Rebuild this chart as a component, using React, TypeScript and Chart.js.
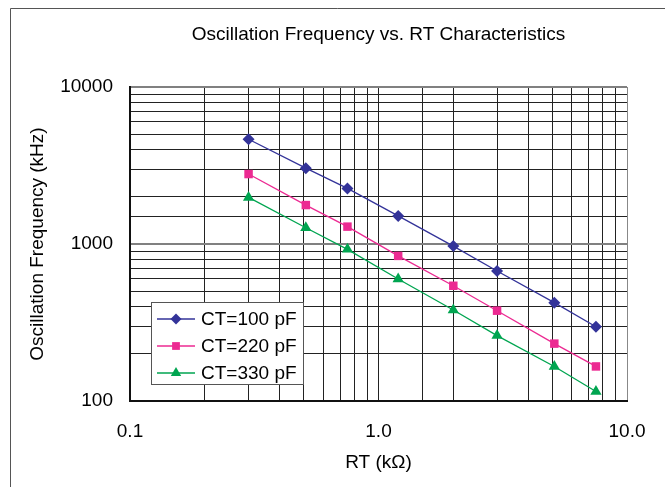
import React, { useEffect, useRef } from "react";
import { Chart, registerables } from "chart.js";

Chart.register(...registerables);

const rtValues = [0.3, 0.51, 0.75, 1.2, 2.0, 3.0, 5.1, 7.5];
const ct100 = [4650, 3040, 2260, 1510, 970, 673, 423, 297];
const ct220 = [2790, 1770, 1290, 840, 542, 376, 232, 166];
const ct330 = [1980, 1270, 925, 598, 380, 261, 166, 115];
const seriesLabels = ["CT=100 pF", "CT=220 pF", "CT=330 pF"];
const seriesColors = ["#333399", "#EC2A92", "#00A550"];
const seriesStyles = ["rectRot", "rect", "triangle"];
const seriesRadii = [6, 6, 6.5];
const xTickLabels = ["0.1", "1.0", "10.0"];
const yTickLabels = ["100", "1000", "10000"];

const FONT = "'Liberation Sans', Arial, Helvetica, sans-serif";
const FS = 19;

function labelFor(value: number, labels: string[]): string {
  for (const l of labels) {
    const n = Number(l);
    if (Math.abs(Math.log10(value) - Math.log10(n)) < 1e-6) return l;
  }
  return "";
}

function isDecade(v: number) {
  const l = Math.log10(v);
  return Math.abs(l - Math.round(l)) < 1e-6;
}

function drawMarker(ctx: CanvasRenderingContext2D, style: string, x: number, y: number, r: number) {
  ctx.beginPath();
  if (style === "rectRot") {
    ctx.moveTo(x - r, y);
    ctx.lineTo(x, y - r);
    ctx.lineTo(x + r, y);
    ctx.lineTo(x, y + r);
  } else if (style === "rect") {
    const s = Math.SQRT1_2 * r;
    ctx.rect(x - s, y - s, 2 * s, 2 * s);
  } else {
    const t = (2 * Math.PI) / 3;
    ctx.moveTo(x, y - r);
    ctx.lineTo(x + Math.sin(t) * r, y - Math.cos(t) * r);
    ctx.lineTo(x - Math.sin(t) * r, y - Math.cos(t) * r);
  }
  ctx.closePath();
  ctx.fill();
}

const framePlugin = {
  id: "frame",
  beforeDraw(chart: any) {
    const ctx = chart.ctx as CanvasRenderingContext2D;
    ctx.save();
    ctx.fillStyle = "#ffffff";
    ctx.fillRect(0, 0, chart.width, chart.height);
    ctx.strokeStyle = "#555555";
    ctx.lineWidth = 1;
    ctx.beginPath();
    ctx.moveTo(10.5, chart.height);
    ctx.lineTo(10.5, 8.5);
    ctx.lineTo(chart.width, 8.5);
    ctx.stroke();
    ctx.restore();
  },
};

const legendPlugin = {
  id: "boxLegend",
  afterDatasetsDraw(chart: any) {
    const ctx = chart.ctx as CanvasRenderingContext2D;
    const area = chart.chartArea;
    const bx = area.left + 21;
    const by = area.top + 215;
    const bw = 152;
    const bh = 82;
    ctx.save();
    ctx.fillStyle = "#ffffff";
    ctx.fillRect(bx, by, bw, bh);
    ctx.strokeStyle = "#555555";
    ctx.lineWidth = 1;
    ctx.strokeRect(bx + 0.5, by + 0.5, bw, bh);
    ctx.font = `${FS}px ${FONT}`;
    ctx.textBaseline = "middle";
    ctx.textAlign = "left";
    seriesLabels.forEach((label, i) => {
      const y = by + 17 + i * 27;
      ctx.strokeStyle = seriesColors[i];
      ctx.lineWidth = 1.3;
      ctx.beginPath();
      ctx.moveTo(bx + 6, y);
      ctx.lineTo(bx + 44, y);
      ctx.stroke();
      ctx.fillStyle = seriesColors[i];
      drawMarker(ctx, seriesStyles[i], bx + 25, y, seriesRadii[i] - 0.5);
      ctx.fillStyle = "#000000";
      ctx.fillText(label, bx + 50, y + 1);
    });
    ctx.restore();
  },
};

export default function App() {
  const canvasRef = useRef<HTMLCanvasElement | null>(null);

  useEffect(() => {
    if (!canvasRef.current) return;
    Chart.defaults.font.family = FONT;
    Chart.defaults.color = "#000000";
    const seriesValues = [ct100, ct220, ct330];
    const chart = new Chart(canvasRef.current, {
      type: "line",
      data: {
        datasets: seriesValues.map((vals, i) => ({
          label: seriesLabels[i],
          data: rtValues.map((x, j) => ({ x, y: vals[j] })),
          borderColor: seriesColors[i],
          backgroundColor: seriesColors[i],
          borderWidth: 1.3,
          pointStyle: seriesStyles[i] as any,
          pointRadius: seriesRadii[i],
          pointBorderWidth: 0,
          tension: 0,
        })),
      },
      options: {
        responsive: false,
        animation: false,
        layout: { padding: { left: 0, top: 0, right: 38, bottom: 0 } },
        plugins: {
          legend: { display: false },
          tooltip: { enabled: false },
          title: {
            display: true,
            text: "Oscillation Frequency vs. RT Characteristics",
            fullSize: false,
            color: "#000000",
            font: { size: FS, weight: "normal", family: FONT },
            padding: { top: 23.6, bottom: 40.6 },
          },
        },
        scales: {
          x: {
            type: "logarithmic",
            min: 0.1,
            max: 10,
            afterFit: (s: any) => {
              s.height = 86;
            },
            border: { display: true, color: "#111111", width: 2 },
            grid: {
              color: (c: any) => (c.tick && Math.abs(c.tick.value - 10) < 1e-9 ? "#888888" : "#222222"),
              lineWidth: 1,
              drawTicks: false,
            },
            ticks: {
              autoSkip: false,
              maxRotation: 0,
              padding: 19,
              font: { size: FS, family: FONT },
              color: "#000000",
              callback: (v: any) => labelFor(Number(v), xTickLabels),
            },
            title: {
              display: true,
              text: "RT (kΩ)",
              color: "#000000",
              font: { size: FS, family: FONT },
              padding: { top: 0, bottom: 12.6 },
            },
          },
          y: {
            type: "logarithmic",
            min: 100,
            max: 10000,
            afterFit: (s: any) => {
              s.width = 130;
            },
            border: { display: true, color: "#111111", width: 2 },
            grid: {
              color: (c: any) => (c.tick && isDecade(c.tick.value) ? "#808080" : "#222222"),
              lineWidth: (c: any) => (c.tick && isDecade(c.tick.value) ? 2 : 1),
              drawTicks: false,
            },
            ticks: {
              autoSkip: false,
              padding: 17,
              font: { size: FS, family: FONT },
              color: "#000000",
              callback: (v: any) => labelFor(Number(v), yTickLabels),
            },
            title: {
              display: true,
              text: "Oscillation Frequency (kHz)",
              color: "#000000",
              font: { size: FS, family: FONT },
              padding: { top: 26.6, bottom: 0 },
            },
          },
        },
      },
      plugins: [framePlugin, legendPlugin],
    });
    return () => chart.destroy();
  }, []);

  return (
    <div style={{ position: "fixed", left: 0, top: 0, width: 665, height: 487 }}>
      <canvas ref={canvasRef} width={665} height={487} style={{ width: 665, height: 487 }} />
    </div>
  );
}
